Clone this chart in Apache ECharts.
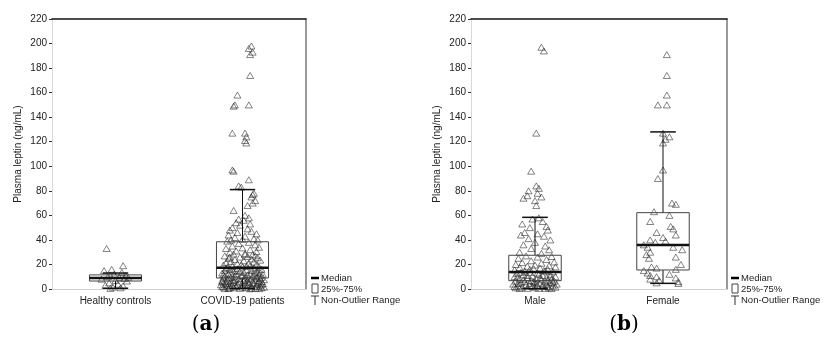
<!DOCTYPE html>
<html>
<head>
<meta charset="utf-8">
<script src="https://cdn.jsdelivr.net/npm/echarts@6/dist/echarts.min.js"></script>
<style>
  html, body { margin: 0; padding: 0; background: #fff; }
  #chart { width: 824px; height: 340px; }
</style>
</head>
<body>
<div id="chart"></div>
<script>
// categories
const catsA = ['Healthy controls', 'COVID-19 patients'];
const catsB = ['Male', 'Female'];

// box stats per category: [min, q1, median, q3, max] (non-outlier range)
const boxA = [[0.6, 6.5, 9, 11.5, 13], [0.5, 9, 17.4, 38.5, 81]];
const boxB = [[0.3, 6.8, 13.9, 27.5, 58.4], [4.6, 15.5, 35.9, 62.2, 128]];

// raw points: [jitter offset, value]
const healthyPts = [[-0.07,33],[0.06,19],[-0.03,16],[-0.09,15],[0.05,13.5],[-0.01,12],[0.08,11],[-0.06,10],[0.03,9.5],[-0.11,8],[0.0,7],[0.09,6.5],[-0.05,5],[0.02,4],[-0.08,3],[0.06,2.5],[-0.02,1.5],[0.04,1],[-0.04,0.5],[0.07,8.5],[-0.04,11],[0.1,9.5]];

const covidPts = [[0.07,198],[0.05,196],[0.08,193],[0.06,191],[0.06,174],[-0.04,158],[-0.06,150],[0.05,150],[-0.07,149],[-0.08,127],[0.02,127],[0.03,124],[0.02,121],[0.03,119],[-0.08,97],[-0.07,96],[0.05,89],[-0.03,84],[-0.01,83],
  [0.09,78],[0.08,77],[0.07,75],[0.1,72],[0.08,70],[0.04,68],[-0.07,64],[0.02,60],[0.05,58],[-0.03,57],[0.01,56],[-0.05,54],[0.06,53],[-0.02,52],[-0.08,50],[0.04,49],[-0.1,48],[0.07,47],[-0.04,46],[0.11,45],[-0.11,44],[0.02,43],[-0.06,42],[0.09,41],[0.0,40.5],[-0.09,40],[0.12,40],
  [-0.12,39],[0.05,38],[-0.03,37],[0.1,36],[-0.08,35],[0.13,34],[0.0,33.5],[-0.13,33],[0.06,32],[-0.05,31],[0.11,30.5],[-0.1,30],[0.02,29],[-0.07,28.5],[0.08,28],[-0.14,27],[0.04,26.5],[-0.02,26],[0.12,25.5],[-0.11,25],[0.07,24.5],[-0.06,24],[0.14,23.5],[0.01,23],[-0.09,22.5],[0.09,22],[-0.13,21.5],[0.05,21],[-0.04,20.5],[0.11,20],[-0.01,20],
  [-0.15,19.5],[0.06,19],[-0.08,18.5],[0.13,18],[0.0,18],[-0.12,17.5],[0.09,17],[-0.04,16.5],[0.15,16],[-0.1,16],[0.03,15.5],[-0.14,15],[0.07,15],[-0.02,14.5],[0.12,14],[-0.07,14],[0.01,13.5],[-0.16,13],[0.1,13],[-0.05,12.5],[0.16,12],[-0.11,12],[0.04,11.5],[-0.01,11],[0.13,11],[-0.14,10.5],[0.08,10.5],[-0.06,10],[0.02,10],[0.15,9.5],[-0.09,9.5],[0.05,9],[-0.15,9],[0.11,9],
  [-0.03,8.5],[0.14,8.5],[-0.12,8],[0.07,8],[-0.06,7.5],[0.17,7.5],[0.01,7],[-0.16,7],[0.1,7],[-0.09,6.5],[0.04,6.5],[0.15,6],[-0.13,6],[-0.02,6],[0.08,5.5],[-0.07,5.5],[0.12,5],[-0.15,5],[0.02,5],[-0.1,4.5],[0.16,4.5],[0.05,4],[-0.04,4],[-0.17,3.5],[0.11,3.5],[-0.08,3],[0.0,3],[0.14,2.5],[-0.12,2.5],[0.07,2],[-0.05,2],[0.17,1.5],[-0.15,1.5],[0.03,1],[-0.1,1],[0.1,0.5],[-0.02,0.5],[0.13,0.3],[-0.14,0.3],[0.06,0.2],
  [0.03,18.5],[-0.13,16.5],[0.1,15.5],[-0.05,15],[0.14,13],[-0.09,12.5],[0.06,12],[-0.15,11.5],[0.0,11],[0.11,10],[-0.11,9],[0.02,8],[-0.07,7],[0.13,6.5],[-0.16,6],[0.05,5.5],[-0.03,5],[0.09,4.5],[-0.13,4],[0.15,3.5],[0.03,3.5],[-0.1,2.5],[0.11,2],[-0.16,2],[0.0,1.5],[-0.07,1],[0.15,1],[0.07,0.6],[-0.11,0.4],[0.02,28],[-0.1,26],[0.1,27]];

const malePts = [[0.05,197],[0.07,194],[0.01,127],[-0.03,96],[0.01,84],[0.03,82],[-0.05,80],[0.02,78],[-0.06,76],[0.05,75],[-0.09,74],[0.0,72],[0.01,68],
  [0.03,58],[-0.02,57],[0.06,55],[-0.1,53],[0.09,51],[-0.04,50],[0.1,48],[-0.08,46],[0.02,45],[-0.11,44],[0.07,43],[-0.05,41],[0.12,40],[0.0,38],[-0.09,36],[0.08,35],[-0.03,33],[0.11,32],[-0.12,30],[0.05,29],
  [-0.07,27],[0.13,26.5],[0.02,26],[-0.13,25],[0.09,24],[-0.03,23],[0.15,22],[-0.1,21.5],[0.05,21],[-0.15,20],[0.0,19.5],[0.11,19],[-0.06,18.5],[0.16,18],[-0.12,17.5],[0.04,17],[-0.01,16.5],[0.1,16],[-0.16,15.5],[0.07,15],[-0.08,14.5],[0.14,14],[-0.04,13.5],[0.02,13],[-0.14,12.5],[0.12,12],[-0.09,11.5],[0.06,11],[-0.02,10.5],[0.16,10],[-0.16,10],[0.09,9.5],[-0.06,9],[0.01,8.5],[0.13,8],[-0.12,8],[0.05,7.5],[-0.03,7],
  [0.15,6.5],[-0.15,6.5],[0.08,6],[-0.08,6],[0.0,5.5],[0.12,5],[-0.11,5],[0.04,4.5],[-0.04,4.5],[0.17,4],[-0.17,4],[0.09,3.5],[-0.07,3.5],[0.02,3],[0.14,2.5],[-0.13,2.5],[0.06,2],[-0.02,2],[0.16,1.5],[-0.1,1.5],[0.11,1],[-0.15,1],[0.03,0.5],[-0.06,0.5],[0.13,0.3],
  [-0.04,16],[0.08,14.5],[-0.11,13.5],[0.03,12],[-0.06,11],[0.12,10.5],[-0.14,9.5],[0.04,9],[-0.09,7.5],[0.1,7],[-0.01,6],[0.14,5.5],[-0.13,4.5],[0.06,3.5],[-0.04,2.5],[0.1,2],[-0.16,2],[0.0,1],[0.08,0.5],[-0.12,0.4]];

const femalePts = [[0.03,191],[0.03,174],[0.03,158],[-0.04,150],[0.03,150],[0.0,127],[0.05,124],[0.02,122],[0.0,119],[0.0,97],[-0.04,90],[0.07,70],[0.1,69],[-0.07,63],[0.05,60],[-0.1,55],[0.06,51],[0.08,49],[-0.05,46],[0.1,44],[0.0,42],[-0.1,40],[0.02,39],[-0.06,38],[-0.15,36],[-0.12,34],[0.08,34],[0.15,32],[-0.1,30],[-0.13,28],[0.1,26],[-0.11,25],[0.14,20],[-0.09,18],[-0.05,17],[0.1,16],[-0.15,15],[-0.12,13],[0.05,12],[-0.1,11],[-0.05,10],[0.1,9],[-0.1,8],[-0.03,7],[0.12,6],[-0.05,5],[0.12,4.5]];

const FONT = 'Liberation Sans';

const chart = echarts.init(document.getElementById('chart'));

// box + whiskers drawn through the category axis scale
const renderBox = (params, api) => {
  const c = api.value(0);
  const pMin = api.coord([c, api.value(1)]);
  const pQ1 = api.coord([c, api.value(2)]);
  const pMed = api.coord([c, api.value(3)]);
  const pQ3 = api.coord([c, api.value(4)]);
  const pMax = api.coord([c, api.value(5)]);
  const band = api.size([1, 0])[0];
  const hw = band * 0.205;
  const cw = band * 0.1;
  const x = pMed[0];
  const ln = (x1, y1, x2, y2, w) => ({
    type: 'line',
    shape: { x1: x1, y1: y1, x2: x2, y2: y2 },
    style: { stroke: '#111', lineWidth: w }
  });
  return {
    type: 'group',
    children: [
      ln(x, pQ3[1], x, pMax[1], 1),
      ln(x, pQ1[1], x, pMin[1], 1),
      ln(x - cw, pMax[1], x + cw, pMax[1], 1.5),
      ln(x - cw, pMin[1], x + cw, pMin[1], 1.5),
      {
        type: 'rect',
        shape: { x: x - hw, y: pQ3[1], width: hw * 2, height: pQ1[1] - pQ3[1] },
        style: { fill: 'none', stroke: '#444', lineWidth: 1 }
      },
      ln(x - hw, pMed[1], x + hw, pMed[1], 2.5)
    ]
  };
};

const toBoxData = (box) => box.map((b, i) => [i].concat(b));
const toPts = (pts, cat) => pts.map((p) => [cat + p[0], p[1]]);

const grids = [
  { left: 52, top: 19, width: 254, height: 270 },
  { left: 471, top: 19, width: 256, height: 270 }
];

const xAxes = [];
const yAxes = [];
[catsA, catsB].forEach((cats, g) => {
  xAxes.push({
    type: 'category', gridIndex: g, data: cats, position: 'bottom',
    axisLine: { onZero: false, lineStyle: { color: '#d0d0d0', width: 1 } },
    axisTick: { show: false },
    axisLabel: { color: '#222', fontSize: 10, fontFamily: FONT, margin: 7 }
  });
  xAxes.push({
    type: 'value', gridIndex: g, min: -0.5, max: 1.5, position: 'top',
    axisLine: { show: true, onZero: false, lineStyle: { color: '#111', width: 1.5 } },
    axisTick: { show: false }, axisLabel: { show: false }, splitLine: { show: false }
  });
  yAxes.push({
    type: 'value', gridIndex: g, min: 0, max: 220, interval: 20, position: 'left',
    name: 'Plasma leptin (ng/mL)', nameLocation: 'middle', nameRotate: 90, nameGap: 29,
    nameTextStyle: { color: '#222', fontSize: 10, fontFamily: FONT },
    axisLine: { show: true, onZero: false, lineStyle: { color: '#d8d8d8' } },
    axisTick: { show: true, length: 3, lineStyle: { color: '#333' } },
    axisLabel: { color: '#222', fontSize: 10, fontFamily: FONT, margin: 5 },
    splitLine: { show: false }
  });
  yAxes.push({
    type: 'value', gridIndex: g, min: 0, max: 220, position: 'right',
    axisLine: { show: true, onZero: false, lineStyle: { color: '#777', width: 1.5 } },
    axisTick: { show: false }, axisLabel: { show: false }, splitLine: { show: false }
  });
});

const ptStyle = {
  type: 'scatter', symbol: 'triangle', symbolSize: [7, 6],
  itemStyle: { color: 'rgba(0,0,0,0)', borderColor: '#222', borderWidth: 0.7 },
  z: 2
};

const boxSeries = (g, box) => ({
  type: 'custom', xAxisIndex: g * 2, yAxisIndex: g * 2,
  renderItem: renderBox, data: toBoxData(box),
  encode: { x: 0, y: [1, 2, 3, 4, 5] }, z: 3
});

// legend + panel labels
const legend = (x0) => [
  { type: 'line', shape: { x1: x0, y1: 278, x2: x0 + 8, y2: 278 }, style: { stroke: '#000', lineWidth: 2.5 } },
  { type: 'rect', shape: { x: x0 + 1, y: 284, width: 6, height: 9 }, style: { fill: 'none', stroke: '#444', lineWidth: 1 } },
  { type: 'line', shape: { x1: x0, y1: 296, x2: x0 + 8, y2: 296 }, style: { stroke: '#333', lineWidth: 1 } },
  { type: 'line', shape: { x1: x0 + 4, y1: 296, x2: x0 + 4, y2: 305 }, style: { stroke: '#333', lineWidth: 1 } },
  { type: 'text', x: x0 + 10, y: 278, style: { text: 'Median', fill: '#222', font: '9.5px ' + FONT, verticalAlign: 'middle' } },
  { type: 'text', x: x0 + 10, y: 289, style: { text: '25%-75%', fill: '#222', font: '9.5px ' + FONT, verticalAlign: 'middle' } },
  { type: 'text', x: x0 + 10, y: 300, style: { text: 'Non-Outlier Range', fill: '#222', font: '9.5px ' + FONT, verticalAlign: 'middle' } }
];

const panelLabel = (x, t) => ({
  type: 'text', x: x, y: 325,
  style: {
    text: '{p|(}{b|' + t + '}{p|)}',
    align: 'center', verticalAlign: 'middle',
    rich: {
      p: { fontFamily: 'DejaVu Serif', fontSize: 20, fill: '#000', color: '#000' },
      b: { fontFamily: 'DejaVu Serif', fontSize: 20, fontWeight: 'bold', fill: '#000', color: '#000' }
    }
  }
});

const option = {
  animation: false,
  textStyle: { fontFamily: FONT },
  grid: grids,
  xAxis: xAxes,
  yAxis: yAxes,
  series: [
    Object.assign({ xAxisIndex: 1, yAxisIndex: 0, data: toPts(healthyPts, 0).concat(toPts(covidPts, 1)) }, ptStyle),
    Object.assign({ xAxisIndex: 3, yAxisIndex: 2, data: toPts(malePts, 0).concat(toPts(femalePts, 1)) }, ptStyle),
    boxSeries(0, boxA),
    boxSeries(1, boxB)
  ],
  graphic: [].concat(legend(311), legend(731), [panelLabel(206, 'a'), panelLabel(624, 'b')])
};

chart.setOption(option);
</script>
</body>
</html>
